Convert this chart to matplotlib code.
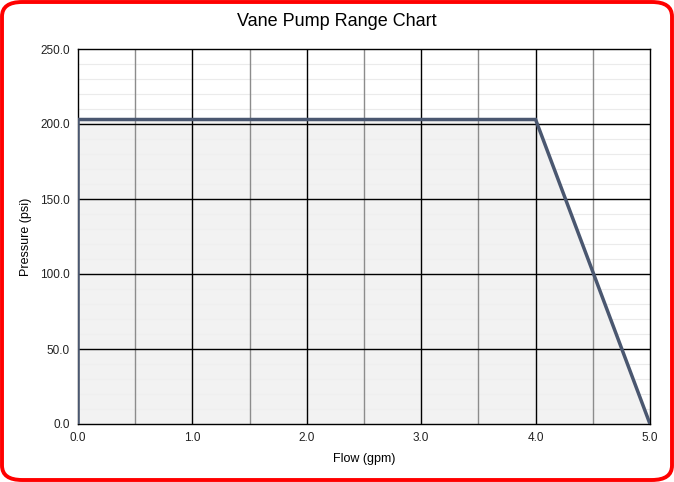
import matplotlib
matplotlib.use("Agg")
import matplotlib.pyplot as plt
from matplotlib.patches import FancyBboxPatch
import numpy as np

plt.rcParams['font.family'] = ['Liberation Sans', 'DejaVu Sans']

# Range envelope of the pump
flow = [0.0, 0.0, 4.0, 5.0]
pressure = [0.0, 203.0, 203.0, 0.0]

x_ticks = [0.0, 1.0, 2.0, 3.0, 4.0, 5.0]
y_ticks = [0.0, 50.0, 100.0, 150.0, 200.0, 250.0]

fig = plt.figure(figsize=(6.74, 4.82), dpi=100)
ax = fig.add_axes([78 / 674, 1 - 424 / 482, 572 / 674, 375 / 482])

# minor horizontal grid
for v in np.arange(0, 251, 10):
    ax.axhline(v, color='#ebebeb', linewidth=0.8, zorder=0)

ax.fill(flow, pressure, color='#f0f0f0', zorder=1, alpha=0.85)

# vertical grid
for v in np.arange(0.5, 5.0, 1.0):
    ax.axvline(v, color='#8c8c8c', linewidth=1.0, zorder=2)
for v in x_ticks[1:-1]:
    ax.axvline(v, color='#000000', linewidth=1.0, zorder=2)
for v in y_ticks[1:-1]:
    ax.axhline(v, color='#000000', linewidth=1.0, zorder=2)

ax.plot(flow, pressure, color='#4a5770', linewidth=2.5, zorder=3,
        solid_joinstyle='miter')

ax.set_xlim(0, 5)
ax.set_ylim(0, 250)
ax.set_xticks(x_ticks)
ax.set_yticks(y_ticks)
ax.set_xticklabels(['%.1f' % v for v in x_ticks])
ax.set_yticklabels(['%.1f' % v for v in y_ticks])
ax.tick_params(length=0, labelsize=8.5, pad=6, colors='#222222')
for s in ax.spines.values():
    s.set_color('black')
    s.set_linewidth(1.0)

ax.set_xlabel('Flow (gpm)', fontsize=9, labelpad=6)
ax.set_ylabel('Pressure (psi)', fontsize=9, labelpad=6)
fig.text(0.5, 1 - 22 / 482, 'Vane Pump Range Chart', ha='center', va='center',
         fontsize=13)

border = FancyBboxPatch((2 / 674, 2 / 482), 1 - 4 / 674, 1 - 4 / 482,
                        boxstyle='round,pad=0,rounding_size=0.03',
                        transform=fig.transFigure, fill=False,
                        edgecolor='#ff0000', linewidth=2.8)
fig.patches.append(border)

fig.savefig('out.png', dpi=100)
